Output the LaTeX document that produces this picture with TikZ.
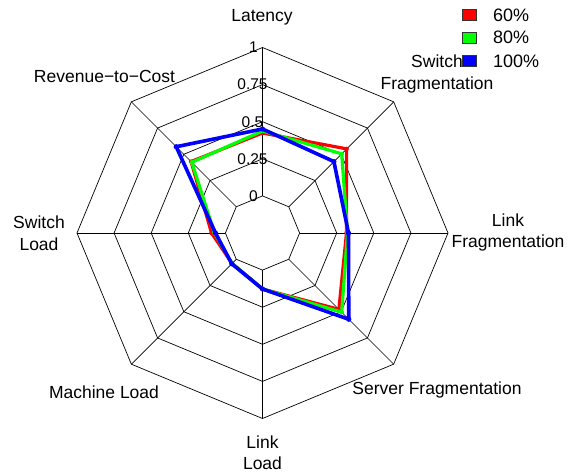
\documentclass[tikz,border=0pt]{standalone}
\usepackage{fontspec}
\setmainfont{Liberation Sans}
\definecolor{sred}{RGB}{255,0,0}
\definecolor{sgreen}{RGB}{0,255,0}
\definecolor{sblue}{RGB}{0,0,255}
\begin{document}
\begin{tikzpicture}[x=1pt,y=1pt,
  gridline/.style={draw=black, line width=0.7pt},
  axlabel/.style={align=center, font=\fontsize{17.5}{21.5}\selectfont, inner sep=0pt},
  ticklabel/.style={font=\fontsize{15.5}{18}\selectfont, inner sep=0pt},
  legtext/.style={font=\fontsize{18}{21}\selectfont, inner sep=0pt, anchor=west},
  legbox/.style={draw=black!80, line width=0.5pt, minimum width=14.4pt, minimum height=10.7pt, inner sep=0pt},
  series/.style={draw=#1, line width=3.2pt, line join=round},
  dot/.style={fill=#1, draw=none}]
\useasboundingbox (0,0) rectangle (578,-472);
\begin{scope}[shift={(262.5,-233)}]
  % rings
  \foreach \r in {37.1,74.2,111.3,148.4,185.5}
    \draw[gridline] (90:\r) -- (45:\r) -- (0:\r) -- (-45:\r) -- (-90:\r) -- (-135:\r) -- (180:\r) -- (135:\r) -- cycle;
  % spokes
  \foreach \a in {0,45,...,315}
    \draw[gridline] (\a:37.1) -- (\a:185.5);
  % tick labels
  \node[ticklabel] (t0) at (-9,37.1) {0};
  \node[ticklabel] (t25) at (-10,74.2) {0.25};
  \node[ticklabel] (t50) at (-10,111.3) {0.5};
  \node[ticklabel] (t75) at (-10,148.4) {0.75};
  \node[ticklabel] (t100) at (-9,185.5) {1};
  % series
  \draw[series=sred] (90:100) -- (45:119) -- (0:84) -- (-45:108) -- (-90:56) -- (-135:43) -- (180:51) -- (135:101) -- cycle;
  \foreach \a/\r in {90/100,45/119,0/84,-45/108,-90/56,-135/43,180/51,135/101}
    \fill[dot=sred] (\a:\r) circle (2.2);
  \draw[series=sgreen] (90:102) -- (45:112) -- (0:85) -- (-45:112) -- (-90:56) -- (-135:43) -- (180:48) -- (135:100) -- cycle;
  \foreach \a/\r in {90/102,45/112,0/85,-45/112,-90/56,-135/43,180/48,135/100}
    \fill[dot=sgreen] (\a:\r) circle (2.2);
  \draw[series=sblue, line width=3.6pt] (90:104) -- (45:101) -- (0:86) -- (-45:122) -- (-90:56) -- (-135:43.5) -- (180:47) -- (135:122) -- cycle;
  \foreach \a/\r in {90/104,45/101,0/86,-45/122,-90/56,-135/43.5,180/47,135/122}
    \fill[dot=sblue] (\a:\r) circle (2.6);
\end{scope}
% axis labels
\node[axlabel] (lat) at (262,-17) {Latency};
\node[axlabel] (swf) at (437,-74) {Switch\\Fragmentation};
\node[axlabel] (lkf) at (508,-232.5) {Link\\Fragmentation};
\node[axlabel] (svf) at (437,-390) {Server Fragmentation};
\node[axlabel] (lkl) at (262.5,-452.5) {Link\\Load};
\node[axlabel] (mcl) at (104,-392) {Machine Load};
\node[axlabel] (swl) at (39,-233) {Switch\\Load};
\node[axlabel] (rev) at (104.5,-76) {Revenue−to−Cost};
% legend
\node[legbox, fill=sred] (k1) at (469.5,-14.7) {};
\node[legbox, fill=sgreen] (k2) at (469.5,-37.5) {};
\node[legbox, fill=sblue] (k3) at (469.5,-60.8) {};
\node[legtext] (l1) at (493,-15) {60\%};
\node[legtext] (l2) at (493,-37.5) {80\%};
\node[legtext] (l3) at (493,-61) {100\%};
\end{tikzpicture}
\end{document}
